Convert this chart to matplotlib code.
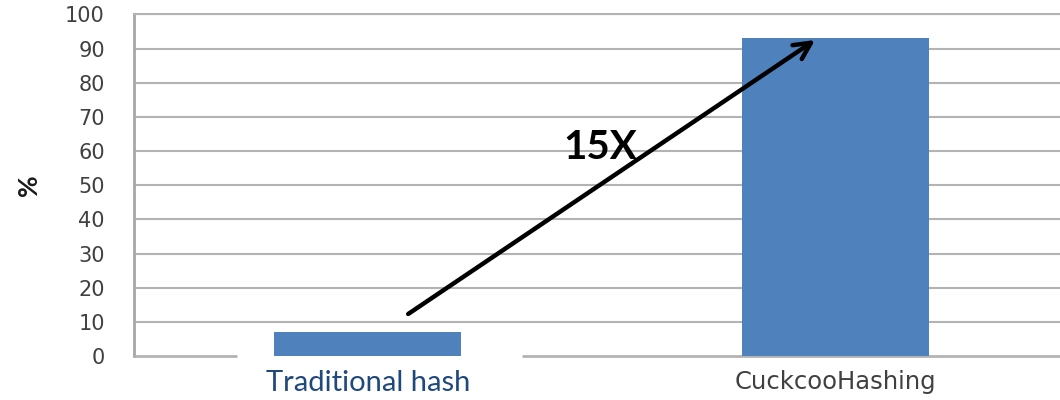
import matplotlib
matplotlib.use("Agg")
import matplotlib.pyplot as plt

# Share of successful lookups (%) for each hashing scheme
categories = ["Traditional hash", "CuckcooHashing"]
values = [7, 93]
y_ticks = [0, 10, 20, 30, 40, 50, 60, 70, 80, 90, 100]
speedup_label = "15X"

bar_color = "#4F81BD"
grid_color = "#B3B3B3"
text_gray = "#404040"

fig = plt.figure(figsize=(10.6, 4.0), dpi=100)
ax = fig.add_axes([0.1264, 0.11, 0.8736, 0.854])

x = list(range(len(categories)))
ax.bar(x, values, width=0.4, color=bar_color, zorder=3)

ax.set_xlim(-0.5, 1.481)
ax.set_ylim(0, 100)
ax.set_yticks(y_ticks)
ax.set_xticks(x)
ax.set_xticklabels(categories)

# horizontal gridlines behind the bars (the zero line is drawn separately)
ax.yaxis.grid(True, color=grid_color, linewidth=1.5, zorder=0)
ax.set_axisbelow(True)
ax.yaxis.get_gridlines()[0].set_visible(False)

for side in ("right", "bottom"):
    ax.spines[side].set_visible(False)
ax.spines["top"].set_color(grid_color)
ax.spines["top"].set_linewidth(1.5)
ax.spines["left"].set_color("#A6A6A6")
ax.spines["left"].set_linewidth(2.0)

# baseline drawn in two pieces, leaving a gap next to the first bar
ax.hlines(0, -0.5, -0.279, color=grid_color, linewidth=2.0, zorder=4, clip_on=False)
ax.hlines(0, 0.330, 1.481, color=grid_color, linewidth=2.0, zorder=2, clip_on=False)

ax.tick_params(axis="y", length=0, pad=21, labelsize=15, labelcolor=text_gray)
ax.tick_params(axis="x", length=0, pad=10)

tl = ax.get_xticklabels()
tl[0].set_fontfamily("Lato")
tl[0].set_fontsize(21)
tl[0].set_color("#1F497D")
tl[1].set_fontfamily("DejaVu Sans")
tl[1].set_fontsize(17.5)
tl[1].set_color(text_gray)

ax.set_ylabel("%", fontsize=19, fontweight="bold", fontfamily="Lato",
              color="#1A1A1A", va="center")
ax.yaxis.set_label_coords(-0.113, 0.5)

# arrow showing the improvement from the first bar to the second
ax.annotate("", xy=(0.957, 92.5), xytext=(0.0866, 12.3),
            arrowprops=dict(arrowstyle="->", color="black", lw=3.2,
                            mutation_scale=30, shrinkA=0, shrinkB=0),
            zorder=5)
ax.text(0.497, 61, speedup_label, fontsize=29, fontweight="bold",
        fontfamily="Lato", ha="center", va="center", color="black", zorder=6)

fig.savefig("out.png", dpi=100)
